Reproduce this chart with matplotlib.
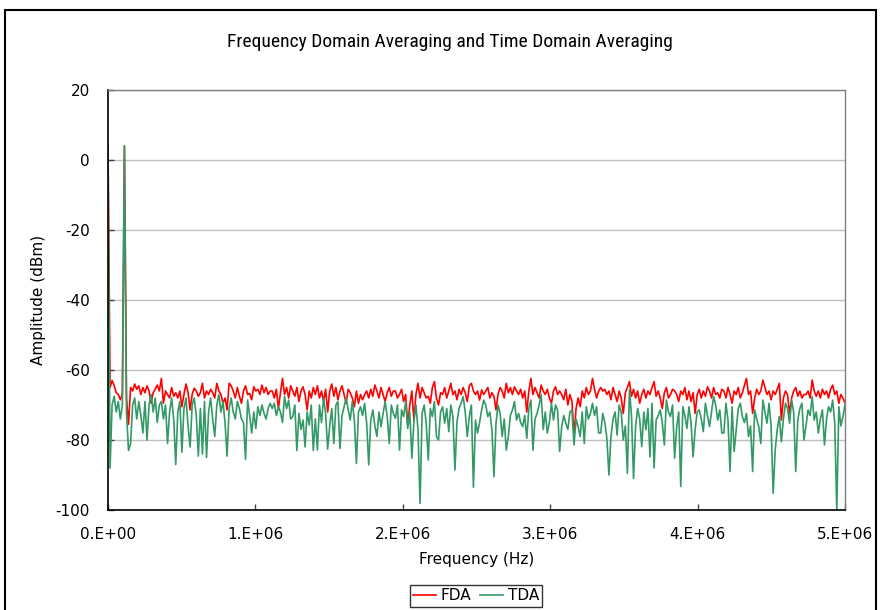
import numpy as np
import matplotlib.pyplot as plt
from matplotlib.patches import Rectangle

# spectrum values (dBm), one value per frequency bin
fda = [
    4, -65, -63, -64.5, -66.5, -67, -68.5, -67, 4, -68, -75.5, -65, -66, -64, -65.5, -64.5, -67, -65, -66.5, -64.5,
    -66, -69.5, -66.5, -65.5, -64.3, -66, -62.4, -69.5, -66, -67, -68, -65, -67.5, -66.5, -68, -66, -70.5, -67, -64, -66.5,
    -71.4, -67, -65.2, -66, -67.5, -66.5, -63.8, -68, -66, -67, -65.5, -66.5, -68, -63.8, -66, -67, -69.5, -68, -71.4, -63.8,
    -64.5, -66, -68, -65, -67.5, -69.5, -66, -64.5, -67, -66.7, -68.5, -64.8, -66, -65.5, -67, -64.3, -66.5, -65, -67, -66,
    -66, -68, -65.5, -71, -66.5, -62.4, -67, -65, -68, -64.5, -66, -67.5, -65, -69, -66, -64.8, -67, -71.4, -66, -68,
    -65, -67, -64.5, -68, -66, -69, -65.5, -72, -66, -64, -67.5, -65, -68.5, -66, -64.5, -67, -69.5, -65.5, -66.5, -68,
    -70.5, -66, -69.5, -67, -68.5, -67, -66, -68, -65.5, -67.5, -64.3, -66, -68, -65, -67, -69, -66.5, -65, -67.5, -66,
    -66, -68, -67, -65.5, -69, -67, -75.7, -70, -66, -74.3, -67, -63.8, -68, -65, -66.5, -68, -67.5, -69.5, -65, -63.3,
    -68, -70, -66.5, -67, -65, -68, -66, -63.8, -67, -66, -68.5, -65.5, -67, -65, -66.5, -69, -64.5, -63.8, -66, -67,
    -66, -68.6, -65.7, -67, -66, -65, -68, -66.5, -67.5, -71.4, -67, -65, -66, -68, -63.8, -66.5, -65, -67, -64.8, -66,
    -67, -65.5, -68, -66, -72, -66, -62.4, -67, -65, -66.5, -68, -64.3, -66, -67, -65.5, -68, -69.5, -66, -64.8, -67,
    -66, -67, -68.5, -65.5, -70, -67, -69, -78.6, -71, -68, -70.5, -66, -68, -65, -67, -66, -62.4, -65.5, -68, -66,
    -65, -66, -65.5, -67, -66, -68.5, -65, -67, -69, -66, -68, -72.4, -66.5, -65, -63.3, -67.5, -65.5, -68, -66, -69.5,
    -67, -65.5, -68, -66, -67, -65, -63.3, -67.5, -66, -68, -71, -66.5, -65, -68, -67, -65.5, -66, -67, -69, -66,
    -67, -65, -68.5, -66, -69, -66.5, -72.4, -67, -65.5, -68, -66, -67.5, -64.8, -66, -68, -65, -67, -66.5, -68, -65.5,
    -66, -68, -65, -67, -69.5, -66, -67, -65, -68, -66.5, -64.5, -62.4, -67, -66, -72.4, -68, -65.5, -67, -66, -62.9,
    -65, -67, -66, -68.5, -66, -67, -65.5, -63.8, -74.3, -68, -66, -67, -72.4, -68, -66, -65, -67.5, -66, -68, -67,
    -67, -66, -68, -62.9, -66, -67.5, -66, -68, -65.5, -67, -66, -68, -65.5, -64.3, -67, -66, -69.5, -67, -68, -69.4,
]
tda = [
    4, -88, -70, -67.5, -72, -69, -74, -70, 4, -72, -83, -81, -70, -68, -74, -69, -73, -78, -69, -80,
    -70, -67, -72, -68, -75, -70, -69, -74, -70, -81, -72, -68, -74, -87, -72, -69, -83.5, -71, -68, -76,
    -82, -70, -68, -73, -84.6, -71, -84, -69, -85, -72, -68, -74, -79, -70, -67, -72, -69, -75, -84.6, -71,
    -68, -72, -74, -69, -71, -74, -75, -85.5, -68.6, -73, -78, -72, -76.7, -70.5, -73, -70, -72.4, -74, -71, -69.5,
    -71, -69.5, -73, -70.5, -72, -75, -67.6, -71, -68.6, -74, -73.3, -70, -83, -72.4, -77, -74.3, -82, -72, -75.7, -70,
    -83, -74, -82.9, -70, -75, -68, -72.4, -82.6, -76, -71, -81, -70, -69, -82.4, -73, -70.5, -68, -71.4, -74.3, -69,
    -74.3, -86.7, -72, -70.5, -73, -69.5, -75.2, -87.1, -74.3, -71.4, -76, -79, -72, -76.2, -72.4, -69, -73.3, -81, -70, -72.4,
    -73.8, -70, -82.9, -71.4, -73.3, -69, -76.7, -72, -85.2, -74.8, -70, -77, -98.1, -72.4, -70, -75.2, -85.7, -71, -73.3, -69,
    -79, -80, -72, -70.5, -75.2, -71, -77.6, -70, -73.3, -88.6, -74.8, -71, -69.5, -67.6, -72, -79, -73.3, -70, -93.5, -74.3,
    -78, -75, -71.4, -68.6, -70, -73.3, -72, -77, -90.5, -75.2, -70, -72.4, -79, -74, -82.9, -79, -73, -71.4, -69, -74.3,
    -72.4, -75, -76.2, -73, -79.5, -71, -68.6, -82.9, -74, -72.4, -70, -67.1, -77, -72, -78, -75, -69.5, -74.3, -70, -71.4,
    -83.3, -76.2, -73, -75.2, -77, -72, -71.4, -81.4, -74, -76.2, -79, -72, -81, -70.5, -74, -72.4, -69.5, -73, -70.5, -78,
    -78, -72.4, -75, -79.5, -90, -79, -74, -72, -78.6, -70, -72, -80, -76, -89.5, -65.7, -73, -91, -76.2, -71, -74,
    -81.9, -72, -77.1, -71, -84.8, -69.5, -88, -74.3, -73, -71.4, -75, -81.4, -68.6, -72, -73.3, -70, -85.2, -76.2, -72, -93.3,
    -70.5, -73, -76.7, -70.5, -75, -84.8, -77, -72, -71.4, -74, -77.6, -69.5, -73, -76.2, -72, -67.6, -70, -74.3, -71.4, -78,
    -78, -69.5, -74.3, -89, -70.5, -83.3, -77, -71, -69.5, -73.3, -75, -72.4, -79, -76, -89, -71.4, -74, -76.2, -81, -68.6,
    -72, -75.2, -69.5, -76, -95.2, -82.9, -77, -73.3, -80.5, -74, -69.5, -71, -75.2, -68.6, -72, -89, -74.3, -71, -69.5, -80,
    -76, -71.4, -73, -67.6, -74.3, -72, -78, -74, -71.4, -81.4, -74, -70.5, -72, -68.6, -75.2, -100, -70.5, -76, -73.3, -70,
]
f_max = 5e6
xticks = [0, 1e6, 2e6, 3e6, 4e6, 5e6]
xticklabels = ["0.E+00", "1.E+06", "2.E+06", "3.E+06", "4.E+06", "5.E+06"]
yticks = [20, 0, -20, -40, -60, -80, -100]
yticklabels = ["20", "0", "-20", "-40", "-60", "-80", "-100"]

# bins are evenly spaced from DC to 5 MHz
freq = np.arange(len(fda)) * f_max / (len(fda) - 1)

fig = plt.figure(figsize=(8.8, 6.1), dpi=100)
ax = fig.add_axes([108/880, 1-510/610, 737/880, 420/610])

ax.plot(freq, fda, color='#FF0000', lw=1.2, label='FDA')
ax.plot(freq, tda, color='#339966', lw=1.2, label='TDA')

ax.set_xlim(0, f_max)
ax.set_ylim(-100, 20)
ax.set_xticks(xticks)
ax.set_xticklabels(xticklabels)
ax.set_yticks(yticks)
ax.set_yticklabels(yticklabels)
ax.tick_params(direction='in', length=4, width=1, labelsize=11, color='#404040')
ax.tick_params(axis='y', pad=13)
ax.tick_params(axis='x', pad=12)
ax.grid(axis='y', color='#BFBFBF', lw=1)
ax.set_axisbelow(True)
for s in ['left', 'bottom']:
    ax.spines[s].set_color('black')
    ax.spines[s].set_linewidth(1.2)
for s in ['top', 'right']:
    ax.spines[s].set_color('#808080')
    ax.spines[s].set_linewidth(1)

ax.set_xlabel("Frequency (Hz)", fontsize=11)
ax.set_ylabel("Amplitude (dBm)", fontsize=11)
ax.xaxis.set_label_coords(0.5, -0.100)
ax.yaxis.set_label_coords(-0.084, 0.5)

fig.text(450/880, 1-42/610, "Frequency Domain Averaging and Time Domain Averaging",
         ha='center', va='center', fontsize=14,
         family=['Roboto Condensed', 'Liberation Sans Narrow', 'Liberation Sans'])

leg = fig.legend(loc='center', bbox_to_anchor=(476/880, 1-596/610), ncol=2,
                 fontsize=11, frameon=True, fancybox=False, handlelength=1.5,
                 handletextpad=0.3, columnspacing=0.6, borderpad=0.2)
leg.get_frame().set_edgecolor('black')
leg.get_frame().set_linewidth(1)

# outer chart frame
fig.patches.append(Rectangle((5/880, -0.02), 871/880, 1-10/610+0.02,
                             transform=fig.transFigure, fill=False,
                             edgecolor='black', lw=1.5))

fig.savefig('out.png', dpi=100)
